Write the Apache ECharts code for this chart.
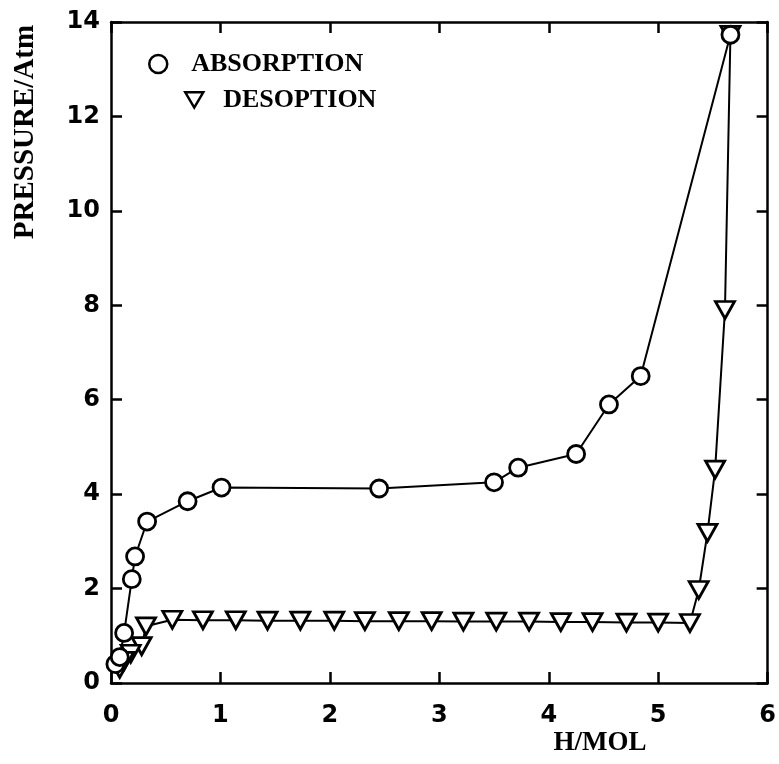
<!DOCTYPE html>
<html>
<head>
<meta charset="utf-8">
<script src="https://cdn.jsdelivr.net/npm/echarts@6/dist/echarts.min.js"></script>
<style>
html,body{margin:0;padding:0;background:#fff;}
#chart{width:779px;height:764px;}
</style>
</head>
<body>
<div id="chart"></div>
<script>
// Absorption (circles)
var absX = [0.04, 0.08, 0.12, 0.19, 0.22, 0.33, 0.70, 1.01, 2.45, 3.50, 3.72, 4.25, 4.55, 4.84, 5.66];
var absY = [0.40, 0.55, 1.06, 2.20, 2.68, 3.42, 3.85, 4.14, 4.12, 4.25, 4.56, 4.85, 5.90, 6.50, 13.73];
// Desorption (down triangles)
var desX = [5.66, 5.61, 5.52, 5.45, 5.37, 5.29, 5.00, 4.71, 4.40, 4.11, 3.82, 3.52, 3.22, 2.93, 2.63, 2.32, 2.04, 1.73, 1.43, 1.14, 0.84, 0.56, 0.32, 0.28, 0.18, 0.12, 0.08];
var desY = [13.73, 7.90, 4.52, 3.18, 1.97, 1.27, 1.28, 1.28, 1.29, 1.29, 1.30, 1.30, 1.30, 1.31, 1.31, 1.31, 1.32, 1.32, 1.32, 1.33, 1.33, 1.34, 1.20, 0.78, 0.62, 0.47, 0.30];
var xTicks = [0, 1, 2, 3, 4, 5, 6];
var yTicks = [0, 2, 4, 6, 8, 10, 12, 14];
var seriesNames = ['ABSORPTION', 'DESOPTION'];
var xTitle = 'H/MOL';
var yTitle = 'PRESSURE/Atm';

function pairs(xs, ys) { return xs.map(function (x, i) { return [x, ys[i]]; }); }

var chart = echarts.init(document.getElementById('chart'), null, {renderer: 'canvas'});
var tickFont = {fontFamily: 'DejaVu Sans', fontWeight: 'bold', fontSize: 24, color: '#000'};
var serif = 'Liberation Serif';

function axisBase(min, max, interval, pos, showLabel, margin) {
  return {
    type: 'value', min: min, max: max, interval: interval, position: pos,
    axisLine: {show: true, onZero: false, lineStyle: {color: '#000', width: 2.5}},
    axisTick: {show: true, inside: true, length: 11, lineStyle: {color: '#000', width: 2.5}},
    axisLabel: Object.assign({show: showLabel, margin: margin}, tickFont),
    splitLine: {show: false}
  };
}

chart.setOption({
  animation: false,
  backgroundColor: '#fff',
  grid: {left: 111, right: 4, top: 22, bottom: 81, containLabel: false},
  xAxis: [
    axisBase(xTicks[0], xTicks[xTicks.length - 1], 1, 'bottom', true, 21),
    axisBase(xTicks[0], xTicks[xTicks.length - 1], 1, 'top', false, 8)
  ],
  yAxis: [
    axisBase(yTicks[0], yTicks[yTicks.length - 1], 2, 'left', true, 11),
    axisBase(yTicks[0], yTicks[yTicks.length - 1], 2, 'right', false, 8)
  ],
  legend: [
    {
      data: [{name: seriesNames[0], icon: 'circle'}],
      left: 148, top: 51, itemWidth: 18, itemHeight: 18, itemGap: 10, padding: 0,
      textStyle: {fontFamily: serif, fontWeight: 'bold', fontSize: 26, color: '#000', padding: [0, 0, 0, 19]},
      itemStyle: {color: '#fff', borderColor: '#000', borderWidth: 2.5}
    },
    {
      data: [{name: seriesNames[1], icon: 'path://M0,0 L20,0 L10,17 Z'}],
      left: 184, top: 87, itemWidth: 18, itemHeight: 16, itemGap: 10, padding: 0,
      textStyle: {fontFamily: serif, fontWeight: 'bold', fontSize: 26, color: '#000', padding: [0, 0, 0, 15]},
      itemStyle: {color: '#fff', borderColor: '#000', borderWidth: 2.5}
    }
  ],
  graphic: [
    {type: 'text', x: 26, y: 132, rotation: Math.PI / 2,
     style: {text: yTitle, fontFamily: serif, fontWeight: 'bold', fontSize: 29, fill: '#000', align: 'center', verticalAlign: 'middle'}},
    {type: 'text', x: 600, y: 743,
     style: {text: xTitle, fontFamily: serif, fontWeight: 'bold', fontSize: 27, fill: '#000', align: 'center', verticalAlign: 'middle'}}
  ],
  series: [
    {
      name: seriesNames[1], type: 'line', data: pairs(desX, desY),
      symbol: 'triangle', symbolRotate: 180, symbolSize: [19, 17],
      lineStyle: {color: '#000', width: 2},
      itemStyle: {color: '#fff', borderColor: '#000', borderWidth: 2.8},
      clip: false, z: 2
    },
    {
      name: seriesNames[0], type: 'line', data: pairs(absX, absY),
      symbol: 'circle', symbolSize: 17,
      lineStyle: {color: '#000', width: 2},
      itemStyle: {color: '#fff', borderColor: '#000', borderWidth: 2.8},
      clip: false, z: 3
    }
  ]
});
</script>
</body>
</html>
